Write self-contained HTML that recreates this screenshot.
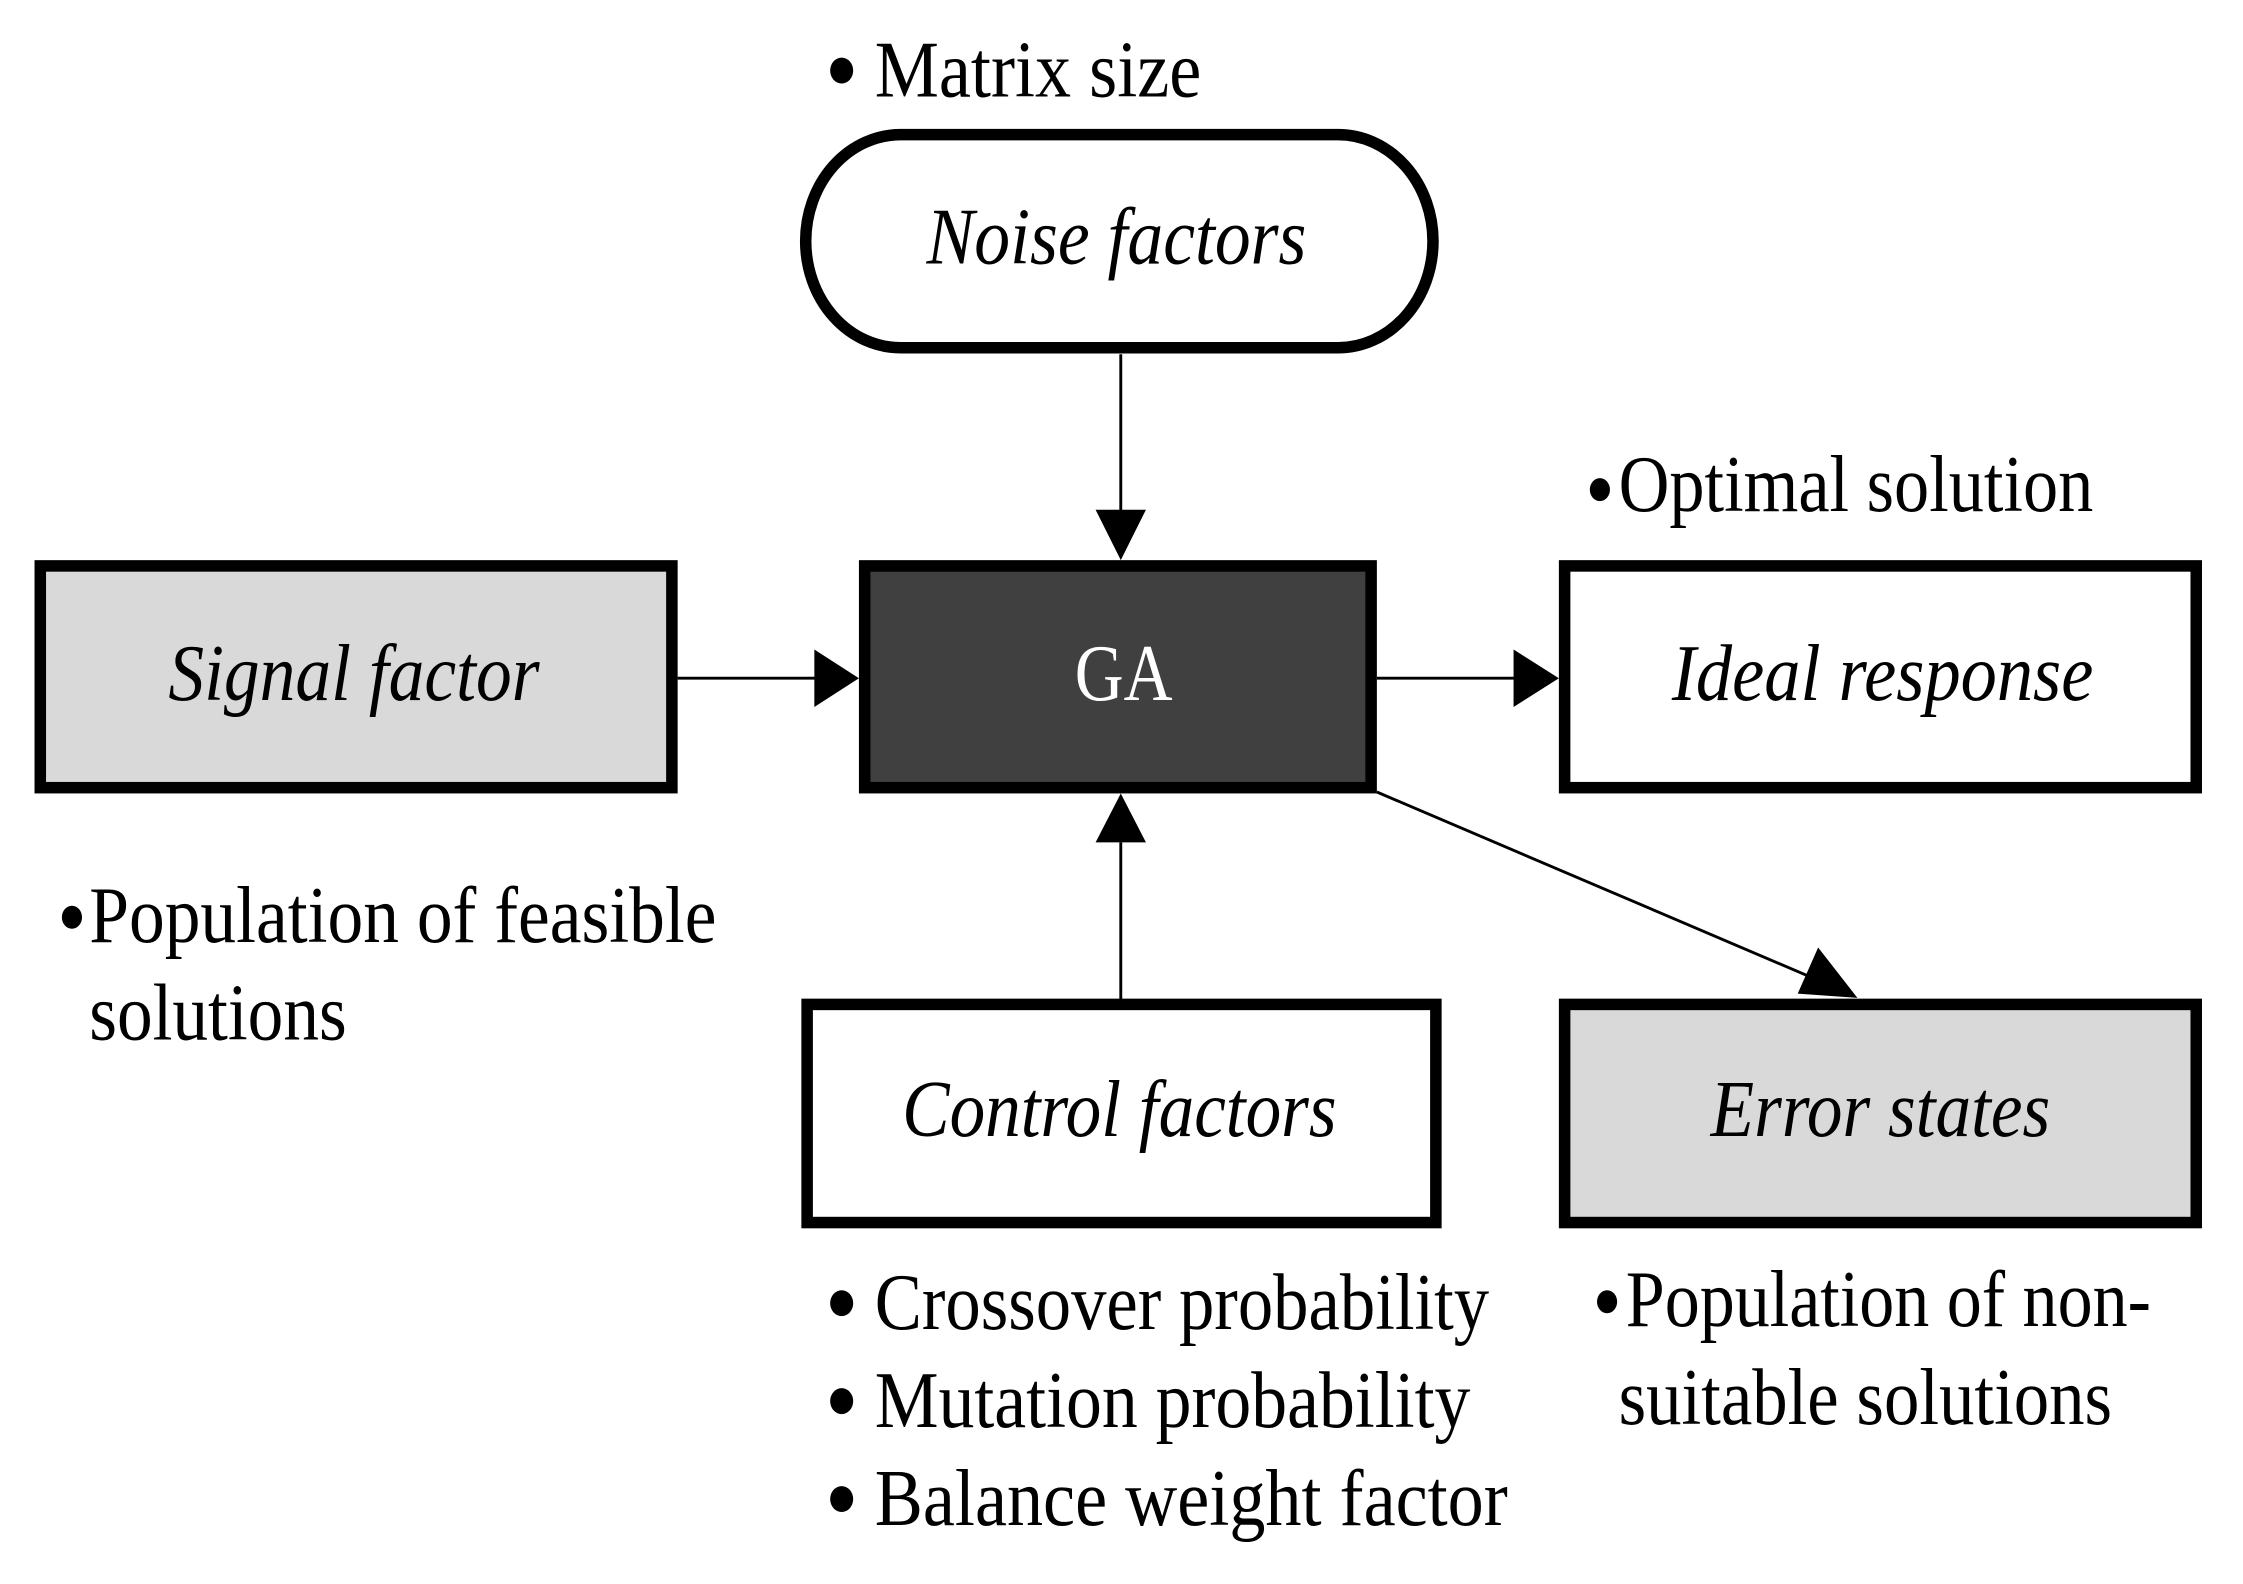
<!DOCTYPE html>
<html><head><meta charset="utf-8"><style>
html,body{margin:0;padding:0;background:#fff;}
svg{display:block;}
text{font-family:"Liberation Serif","Times New Roman",serif;font-size:56px;fill:#000;}
.i{font-style:italic;}
</style></head><body>
<svg width="2243" height="1584" viewBox="0 0 1559 1100" preserveAspectRatio="none" xmlns="http://www.w3.org/2000/svg">
<rect x="0" y="0" width="1559" height="1100" fill="#fff"/>
<rect x="560" y="93.5" width="436" height="148" rx="66" ry="74" fill="#fff" stroke="#000" stroke-width="8"/>
<rect x="28" y="393" width="439" height="154" fill="#d9d9d9" stroke="#000" stroke-width="8"/>
<rect x="601" y="393" width="352" height="154" fill="#404040" stroke="#000" stroke-width="8"/>
<rect x="1087.5" y="393" width="439" height="154" fill="#fff" stroke="#000" stroke-width="8"/>
<rect x="561" y="697.5" width="437" height="151.5" fill="#fff" stroke="#000" stroke-width="8"/>
<rect x="1087.5" y="697.5" width="439" height="151.5" fill="#d9d9d9" stroke="#000" stroke-width="8"/>
<g stroke="#000" stroke-width="2" fill="none">
<line x1="779" y1="246" x2="779" y2="360"/>
<line x1="471" y1="471" x2="570" y2="471"/>
<line x1="957" y1="471" x2="1058" y2="471"/>
<line x1="779" y1="694" x2="779" y2="585"/>
<line x1="957" y1="550" x2="1262" y2="680"/>
</g>
<g fill="#000">
<polygon points="761.5,354 796.5,354 779,389"/>
<polygon points="566,451 566,491 597,471"/>
<polygon points="1052,451 1052,491 1083.5,471"/>
<polygon points="761.5,585 796.5,585 779,551"/>
<polygon points="1291,693 1249.5,690 1263.7,658"/>
<ellipse cx="585" cy="49" rx="8" ry="9"/>
<ellipse cx="1112" cy="340" rx="7" ry="8"/>
<ellipse cx="50" cy="637" rx="7" ry="8"/>
<ellipse cx="585" cy="905" rx="8" ry="9"/>
<ellipse cx="585" cy="973" rx="8" ry="9"/>
<ellipse cx="585" cy="1041" rx="8" ry="9"/>
<ellipse cx="1117" cy="904" rx="7" ry="8"/>
</g>
<text class="i" x="644" y="183" textLength="264" lengthAdjust="spacingAndGlyphs">Noise factors</text>
<text class="i" x="117" y="486" textLength="258" lengthAdjust="spacingAndGlyphs">Signal factor</text>
<text x="747" y="486" textLength="68" lengthAdjust="spacingAndGlyphs" style="fill:#fff">GA</text>
<text class="i" x="1162" y="486" textLength="293" lengthAdjust="spacingAndGlyphs">Ideal response</text>
<text class="i" x="627" y="789" textLength="302" lengthAdjust="spacingAndGlyphs">Control factors</text>
<text class="i" x="1189" y="789" textLength="236" lengthAdjust="spacingAndGlyphs">Error states</text>
<text x="608" y="67" textLength="227" lengthAdjust="spacingAndGlyphs">Matrix size</text>
<text x="1125" y="355" textLength="330" lengthAdjust="spacingAndGlyphs">Optimal solution</text>
<text x="62" y="654" textLength="436" lengthAdjust="spacingAndGlyphs">Population of feasible</text>
<text x="62" y="722" textLength="179" lengthAdjust="spacingAndGlyphs">solutions</text>
<text x="608" y="923" textLength="427" lengthAdjust="spacingAndGlyphs">Crossover probability</text>
<text x="608" y="991" textLength="414" lengthAdjust="spacingAndGlyphs">Mutation probability</text>
<text x="608" y="1059" textLength="440" lengthAdjust="spacingAndGlyphs">Balance weight factor</text>
<text x="1130" y="921" textLength="365" lengthAdjust="spacingAndGlyphs">Population of non-</text>
<text x="1125" y="989" textLength="343" lengthAdjust="spacingAndGlyphs">suitable solutions</text>
</svg>
</body></html>
